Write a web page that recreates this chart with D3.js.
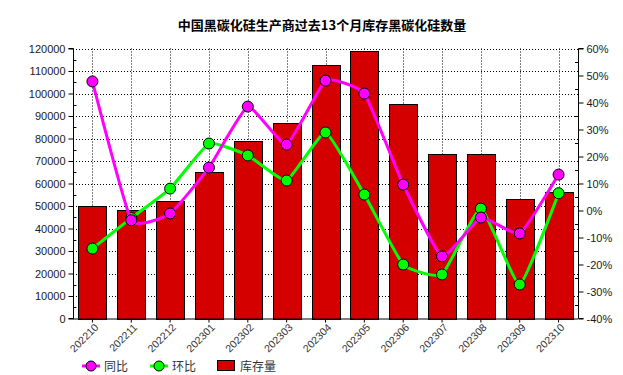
<!DOCTYPE html>
<html><head><meta charset="utf-8">
<script src="https://cdn.jsdelivr.net/npm/d3@7"></script>
<style>body{margin:0;background:#fff}svg{display:block}</style>
</head><body>
<script>
const categories = ["202210","202211","202212","202301","202302","202303","202304","202305","202306","202307","202308","202309","202310"];
const stock = [49800,48400,52200,65300,78700,87100,112600,119100,95500,72900,73300,53200,56400];
const yoy = [47.8,-3.6,-1.1,15.9,38.5,24.4,48.1,43.3,9.6,-17.0,-2.6,-8.5,13.3];
const mom = [-14.1,-2.8,8.1,24.8,20.4,11.1,28.9,5.9,-20.0,-23.7,0.7,-27.4,6.4];
const leftTicks = [0,10000,20000,30000,40000,50000,60000,70000,80000,90000,100000,110000,120000];
const rightTicks = [-40,-30,-20,-10,0,10,20,30,40,50,60];
const title = "中国黑碳化硅生产商过去13个月库存黑碳化硅数量";
const legendLabels = ["同比","环比","库存量"];

const W=623,H=375, L=73, R=578, T=48.5, B=318.5;
const svg=d3.select("body").append("svg").attr("width",W).attr("height",H);
const font="'Liberation Sans', Arial, sans-serif";

const x=d3.scaleBand().domain(categories).range([L,R]).paddingInner(0.28).paddingOuter(0.14);
const xc=d=>x(d)+x.bandwidth()/2;
const yL=d3.scaleLinear().domain([0,120000]).range([B,T]);
const yR=d3.scaleLinear().domain([-40,60]).range([B,T]);

// grid
const g=svg.append("g");
g.selectAll(".hg").data(leftTicks.slice(1)).join("line")
 .attr("x1",L).attr("x2",R).attr("y1",d=>Math.round(yL(d))+0.5).attr("y2",d=>Math.round(yL(d))+0.5)
 .attr("stroke","#000").attr("stroke-width",1).attr("stroke-dasharray","1,2");
g.selectAll(".vg").data(categories).join("line")
 .attr("y1",T).attr("y2",B).attr("x1",d=>Math.round(xc(d))+0.5).attr("x2",d=>Math.round(xc(d))+0.5)
 .attr("stroke","#000").attr("stroke-width",1).attr("stroke-dasharray","1,2");

// bars
svg.append("g").selectAll("rect").data(categories).join("rect")
 .attr("x",d=>Math.round(x(d))+0.5).attr("width",Math.round(x.bandwidth()))
 .attr("y",(d,i)=>Math.round(yL(stock[i]))+0.5).attr("height",(d,i)=>Math.round(B)-Math.round(yL(stock[i])))
 .attr("fill","#d40000").attr("stroke","#000").attr("stroke-width",1);

// axes
const axL=d3.axisLeft(yL).tickValues(leftTicks).tickSize(5).tickFormat(d3.format("d"));
const axR=d3.axisRight(yR).tickValues(rightTicks).tickSize(5).tickFormat(d=>d+"%");
const axX=d3.axisBottom(x).tickSize(4).tickFormat(d=>d);
function styleAxis(s){s.select(".domain").attr("stroke","#000");s.selectAll(".tick line").attr("stroke","#000");
 s.selectAll("text").attr("fill","#1a1a1a").attr("font-family",font).attr("font-size",11);}
svg.append("g").attr("transform",`translate(${L+0.5},0)`).call(axL).call(styleAxis).call(s=>s.select(".domain").attr("d",`M-5,${T}H0V${B}H-5`));
svg.append("g").attr("transform",`translate(${R+0.5},0)`).call(axR).call(styleAxis).call(s=>s.select(".domain").attr("d",`M5,${T}H0V${B}H5`));
const gx=svg.append("g").attr("transform",`translate(0,${B})`).call(axX).call(styleAxis);
gx.select(".domain").attr("d",`M${L},0.5H${R}`);
gx.selectAll("text").attr("text-anchor","end").attr("fill","#333").attr("font-size",10.5)
 .attr("transform","translate(4,7) rotate(-45)").attr("dy","0.35em").attr("y",0).attr("x",0);
// minor ticks
svg.append("g").selectAll("line").data(rightTicks.slice(0,-1).map(d=>d+5)).join("line")
 .attr("x1",R-3).attr("x2",R).attr("y1",d=>Math.round(yR(d))+0.5).attr("y2",d=>Math.round(yR(d))+0.5).attr("stroke","#000");
svg.append("g").selectAll("line").data(leftTicks.slice(0,-1).map(d=>d+5000)).join("line")
 .attr("x1",L+0.5).attr("x2",L+3.5).attr("y1",d=>Math.round(yL(d))+0.5).attr("y2",d=>Math.round(yL(d))+0.5).attr("stroke","#000");

// lines
const line=d3.line().curve(d3.curveCardinal.tension(0.6));
function series(vals,color){
  const pts=categories.map((c,i)=>[xc(c),yR(vals[i])]);
  svg.append("path").attr("d",line(pts)).attr("fill","none").attr("stroke",color).attr("stroke-width",3);
  svg.append("g").selectAll("circle").data(pts).join("circle").attr("cx",d=>d[0]).attr("cy",d=>d[1]).attr("r",5.5)
   .attr("fill",color).attr("stroke","#000").attr("stroke-width",1);
}
series(mom,"#00ff00");
series(yoy,"#ff00ff");

// title
svg.append("text").attr("x",322).attr("y",30).attr("text-anchor","middle").attr("font-family","'Noto Sans CJK SC', sans-serif")
 .attr("font-weight","bold").attr("font-size",13).attr("fill","#000").text(title);

// legend
const lg=svg.append("g").attr("font-family","'Noto Sans CJK SC', sans-serif").attr("font-size",12);
[["#ff00ff",82],["#00ff00",150]].forEach(([c,x0],i)=>{
  lg.append("line").attr("x1",x0).attr("x2",x0+18).attr("y1",366).attr("y2",366).attr("stroke",c).attr("stroke-width",3);
  lg.append("circle").attr("cx",x0+9).attr("cy",366).attr("r",5).attr("fill",c).attr("stroke","#000");
  lg.append("text").attr("x",x0+22).attr("y",370.5).attr("fill","#333").text(legendLabels[i]);
});
lg.append("rect").attr("x",217.5).attr("y",360.5).attr("width",17).attr("height",10).attr("fill","#d40000").attr("stroke","#000");
lg.append("text").attr("x",240).attr("y",370.5).attr("fill","#333").text(legendLabels[2]);
</script>
</body></html>
